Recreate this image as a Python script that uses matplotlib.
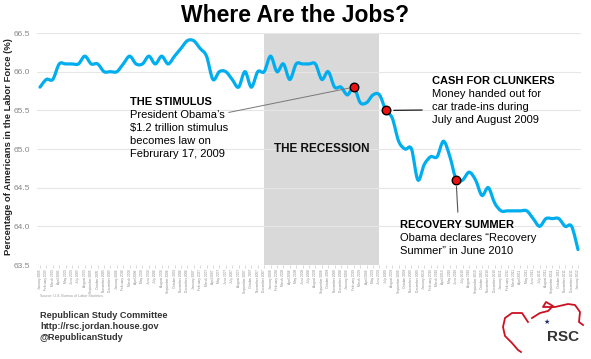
import matplotlib
matplotlib.use("Agg")
import matplotlib.pyplot as plt
from matplotlib.path import Path
from matplotlib.patches import PathPatch

plt.rcParams['font.family'] = ['Liberation Sans', 'DejaVu Sans']

# monthly labor force participation rate, Jan 2005 - Jan 2012
months = ["January", "February", "March", "April", "May", "June", "July",
          "August", "September", "October", "November", "December"]
labels = [f"{m} {y}" for y in range(2005, 2012) for m in months] + ["January 2012"]

rate = [65.8, 65.9, 65.9, 66.1, 66.1, 66.1, 66.1, 66.2, 66.1, 66.1, 66.0, 66.0,   # 2005
        66.0, 66.1, 66.2, 66.1, 66.1, 66.2, 66.1, 66.2, 66.1, 66.2, 66.3, 66.4,   # 2006
        66.4, 66.3, 66.2, 65.9, 66.0, 66.0, 65.9, 65.8, 66.0, 65.8, 66.0, 66.0,   # 2007
        66.2, 66.0, 66.1, 65.9, 66.1, 66.1, 66.1, 66.1, 65.9, 66.0, 65.8, 65.8,   # 2008
        65.7, 65.8, 65.6, 65.6, 65.7, 65.7, 65.5, 65.4, 65.1, 65.0, 65.0, 64.6,   # 2009
        64.8, 64.9, 64.9, 65.1, 64.9, 64.6, 64.6, 64.7, 64.6, 64.4, 64.5, 64.3,   # 2010
        64.2, 64.2, 64.2, 64.2, 64.2, 64.1, 64.0, 64.1, 64.1, 64.1, 64.0, 64.0,   # 2011
        63.7]                                                                     # 2012

recession = ("December 2007", "June 2009")
events = ["February 2009", "July 2009", "June 2010"]

W, H = 591, 359
fig = plt.figure(figsize=(W / 100, H / 100), dpi=100)


def fx(x):
    return x / W


def fy(y):
    return 1 - y / H


ax = fig.add_axes([fx(36.8), fy(265), fx(581.2) - fx(36.8), fy(33) - fy(265)])
n = len(rate)
xs = list(range(n))

# smooth line through the points (Catmull-Rom as bezier segments)
verts = [(xs[0], rate[0])]
codes = [Path.MOVETO]
for i in range(n - 1):
    p0 = (xs[max(i - 1, 0)], rate[max(i - 1, 0)])
    p1 = (xs[i], rate[i])
    p2 = (xs[i + 1], rate[i + 1])
    p3 = (xs[min(i + 2, n - 1)], rate[min(i + 2, n - 1)])
    c1 = (p1[0] + (p2[0] - p0[0]) / 6, p1[1] + (p2[1] - p0[1]) / 6)
    c2 = (p2[0] - (p3[0] - p1[0]) / 6, p2[1] - (p3[1] - p1[1]) / 6)
    verts += [c1, c2, p2]
    codes += [Path.CURVE4] * 3
ax.add_patch(PathPatch(Path(verts, codes), fill=False, edgecolor="#00aeef",
                       lw=2.3, capstyle="round", zorder=3))

r0, r1 = labels.index(recession[0]), labels.index(recession[1])
ax.axvspan(r0, r1, color="#d9d9d9", zorder=0, lw=0)
ax.text((r0 + r1) / 2, 65.0, "THE RECESSION", ha="center", va="center",
        fontsize=8.5, fontweight="bold", color="#111111")

ex = [labels.index(e) for e in events]
ax.scatter(ex, [rate[i] for i in ex], s=38, color="#ee1111", edgecolor="black",
           linewidth=1, zorder=5)

yt = [63.5, 64.0, 64.5, 65.0, 65.5, 66.0, 66.5]
ax.set_xlim(-0.5, n - 0.5)
ax.set_ylim(63.5, 66.5)
ax.set_yticks(yt)
ax.set_yticklabels([f"{v:.1f}" for v in yt])
ax.set_xticks(xs)
ax.set_xticklabels(labels, rotation=90, fontsize=2.3, color="#888888")
ax.tick_params(axis="y", length=0, labelsize=6, colors="#888888", pad=5)
ax.tick_params(axis="x", length=2, width=0.4, color="#bbbbbb", pad=1)
ax.grid(axis="y", color="#e6e6e6", lw=0.8, zorder=0)
ax.set_axisbelow(True)
for s in ax.spines.values():
    s.set_visible(False)
fig.text(fx(9), fy(147), "Percentage of Americans in the Labor Force (%)", fontsize=6.8,
         fontweight="bold", color="#222222", rotation=90, ha="center", va="center")

# annotations
fig.text(0.5, fy(15), "Where Are the Jobs?", ha="center", va="center",
         fontsize=16.5, fontweight="bold")

fig.text(fx(130), fy(102), "THE STIMULUS", fontsize=8, fontweight="bold", va="center")
fig.text(fx(130), fy(110), "President Obama’s\n$1.2 trillion stimulus\nbecomes law on\nFebrurary 17, 2009",
         fontsize=8, va="top", linespacing=1.38)
ax.annotate("", xy=(ex[0], rate[ex[0]]), xytext=(fx(226), fy(113)),
            textcoords="figure fraction",
            arrowprops=dict(arrowstyle="-", color="#777777", lw=0.7))

fig.text(fx(432), fy(81), "CASH FOR CLUNKERS", fontsize=8, fontweight="bold", va="center")
fig.text(fx(432), fy(89), "Money handed out for\ncar trade-ins during\nJuly and August 2009",
         fontsize=8, va="top", linespacing=1.38)
ax.annotate("", xy=(ex[1] + 0.8, rate[ex[1]]), xytext=(fx(425), fy(110)),
            textcoords="figure fraction",
            arrowprops=dict(arrowstyle="-", color="black", lw=0.8))

fig.text(fx(400), fy(225), "RECOVERY SUMMER", fontsize=8, fontweight="bold", va="center")
fig.text(fx(400), fy(233), "Obama declares “Recovery\nSummer” in June 2010",
         fontsize=8, va="top", linespacing=1.38)
ax.annotate("", xy=(ex[2], rate[ex[2]] - 0.05), xytext=(fx(458), fy(215)),
            textcoords="figure fraction",
            arrowprops=dict(arrowstyle="-", color="#555555", lw=0.8))

fig.text(fx(40), fy(296), "Source: U.S. Bureau of Labor Statistics", fontsize=2.6,
         color="#999999", va="center")
fig.text(fx(40), fy(311), "Republican Study Committee\nhttp://rsc.jordan.house.gov\n@RepublicanStudy",
         fontsize=6.6, fontweight="bold", color="#333333", va="top", linespacing=1.3)

# RSC logo
logo = [(528, 322), (522, 313), (512, 313), (505, 318), (503, 327), (505, 336),
        (512, 343), (518, 350), (521, 352)]
fig.add_artist(plt.Line2D([fx(x) for x, y in logo], [fy(y) for x, y in logo],
                          color="#cc1122", lw=1.3))
logo2 = [(532, 318), (540, 313), (548, 311), (553, 306), (546, 302), (543, 307),
         (555, 307), (568, 304), (575, 305), (580, 312), (579, 322), (583, 325)]
fig.add_artist(plt.Line2D([fx(x) for x, y in logo2], [fy(y) for x, y in logo2],
                          color="#cc1122", lw=1.3))
fig.text(fx(547), fy(322), "★", fontsize=5, color="#1a2a6c", ha="center", va="center")
fig.text(fx(563), fy(337), "RSC", fontsize=11, fontweight="bold", color="#333333",
         ha="center", va="center")

fig.savefig("out.png", dpi=100)
